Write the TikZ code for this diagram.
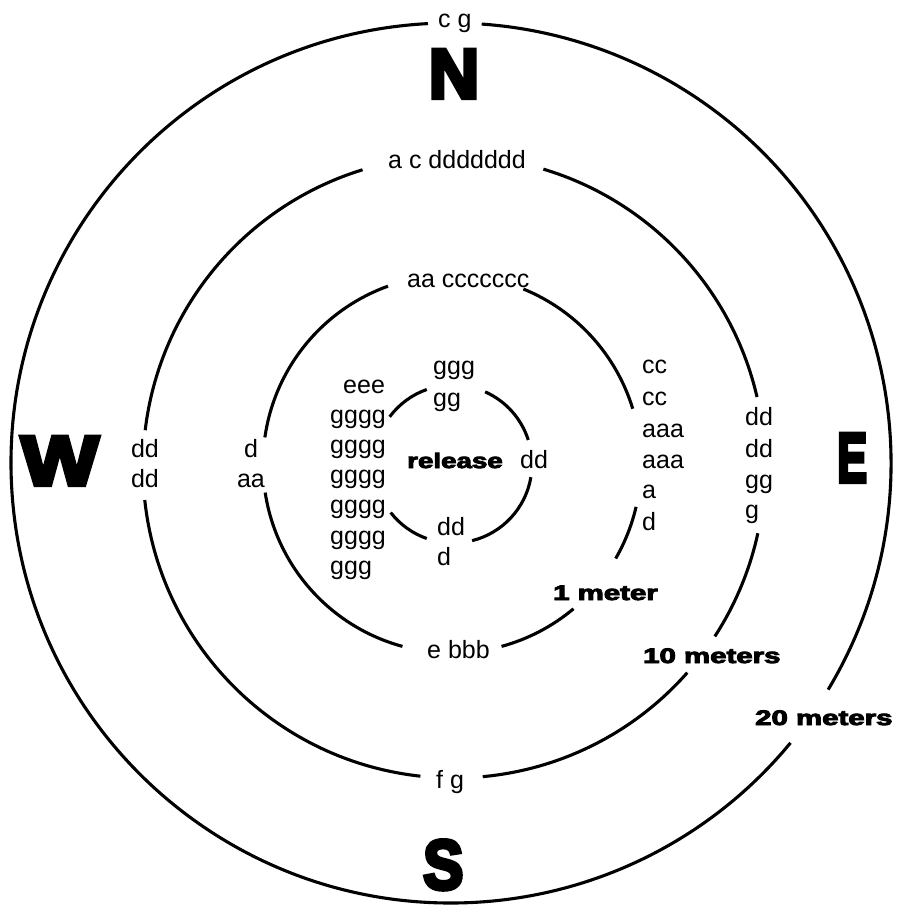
\documentclass[tikz,border=0pt]{standalone}
\usepackage{fontspec}
\usepackage{graphicx}
\setmainfont{Liberation Sans}
\newfontfamily\heavy{Liberation Sans Bold}[FakeBold=4]
\newfontfamily\heavier{Liberation Sans Bold}[FakeBold=6]
\begin{document}
\begin{tikzpicture}[x=1pt,y=-1pt,
  ring/.style={line width=3.1pt},
  lbl/.style={inner sep=0pt,anchor=base west,font=\fontsize{25}{30}\selectfont},
  lblc/.style={inner sep=0pt,anchor=base,font=\fontsize{25}{30}\selectfont},
  big/.style={inner sep=0pt,anchor=base west,font=\heavy\fontsize{21}{25}\selectfont},
  compass/.style={inner sep=0pt,anchor=base west,font=\heavier\fontsize{70}{80}\selectfont}]
\useasboundingbox (0,0) rectangle (902,905);
% centres
\coordinate (c0) at (451,463);
\coordinate (c1) at (454,467);
\coordinate (c2) at (452,464);
\coordinate (c3) at (453,464);
% outer ring (20 m)  -- angles negated because y points down
\draw[ring] (c0) ++(-93:440) arc[start angle=-93,end angle=-320.5,radius=440];
\draw[ring] (c0) ++(31:440) arc[start angle=31,end angle=-86,radius=440];
% second ring (10 m)
\draw[ring] (c1) ++(-13:311) arc[start angle=-13,end angle=-73.3,radius=311];
\draw[ring] (c1) ++(-107.1:311) arc[start angle=-107.1,end angle=-173.2,radius=311];
\draw[ring] (c1) ++(-186.1:311) arc[start angle=-186.1,end angle=-263.8,radius=311];
\draw[ring] (c1) ++(-275.3:311) arc[start angle=-275.3,end angle=-318.6,radius=311];
\draw[ring] (c1) ++(-327:311) arc[start angle=-327,end angle=-347.7,radius=311];
% third ring (1 m)
\draw[ring] (c2) ++(-17:189) arc[start angle=-17,end angle=-67.8,radius=189];
\draw[ring] (c2) ++(-109.8:189) arc[start angle=-109.8,end angle=-171.9,radius=189];
\draw[ring] (c2) ++(-188.7:189) arc[start angle=-188.7,end angle=-254.8,radius=189];
\draw[ring] (c2) ++(-285.2:189) arc[start angle=-285.2,end angle=-310,radius=189];
\draw[ring] (c2) ++(-330:189) arc[start angle=-330,end angle=-346.9,radius=189];
% inner ring
\draw[ring] (c3) ++(-17.7:79) arc[start angle=-17.7,end angle=-66,radius=79];
\draw[ring] (c3) ++(-109.4:79) arc[start angle=-109.4,end angle=-143.3,radius=79];
\draw[ring] (c3) ++(-217.9:79) arc[start angle=-217.9,end angle=-250.6,radius=79];
\draw[ring] (c3) ++(-284:79) arc[start angle=-284,end angle=-350.4,radius=79];
% compass letters
\node[compass,anchor=base] (N) at (454,98) {N};
\node[compass] (W) at (21,485) {\scalebox{1.17}[1]{W}};
\node[compass] (E) at (837,482) {\scalebox{0.64}[1]{E}};
\node[compass] (S) at (423,889) {\scalebox{0.86}[1]{S}};
% distance labels
\node[big] (rel) at (407,468) {\scalebox{1.32}[1]{release}};
\node[big] (m1) at (553,600) {\scalebox{1.4}[1]{1 meter}};
\node[big] (m10) at (643,663) {\scalebox{1.4}[1]{10 meters}};
\node[big] (m20) at (755,725) {\scalebox{1.4}[1]{20 meters}};
% ring labels
\node[lbl] (t0) at (438,27) {c g};
\node[lbl] (t1) at (388,168) {a c ddddddd};
\node[lbl] (t2) at (407,287) {aa ccccccc};
\node[lbl] (t3a) at (433,374) {ggg};
\node[lbl] (t3b) at (433,406) {gg};
\node[lbl] (l3a) at (343,393) {eee};
\node[lbl] (l3b) at (330,423) {gggg};
\node[lbl] (l3c) at (330,453) {gggg};
\node[lbl] (l3d) at (330,483) {gggg};
\node[lbl] (l3e) at (330,513) {gggg};
\node[lbl] (l3f) at (330,544) {gggg};
\node[lbl] (l3g) at (330,574) {ggg};
\node[lbl] (r3) at (520,468) {dd};
\node[lbl] (b3a) at (437,535) {dd};
\node[lbl] (b3b) at (437,565) {d};
\node[lblc] (l2a) at (251,457) {d};
\node[lblc] (l2b) at (251,487) {aa};
\node[lblc] (l1a) at (145,457) {dd};
\node[lblc] (l1b) at (145,487) {dd};
\node[lbl] (r2a) at (642,373) {cc};
\node[lbl] (r2b) at (642,405) {cc};
\node[lbl] (r2c) at (642,437) {aaa};
\node[lbl] (r2d) at (642,468) {aaa};
\node[lbl] (r2e) at (642,498) {a};
\node[lbl] (r2f) at (642,530) {d};
\node[lbl] (r1a) at (745,425) {dd};
\node[lbl] (r1b) at (745,457) {dd};
\node[lbl] (r1c) at (745,488) {gg};
\node[lbl] (r1d) at (745,518) {g};
\node[lbl] (b2) at (427,658) {e bbb};
\node[lbl] (b1) at (436,788) {f g};
\end{tikzpicture}
\end{document}
